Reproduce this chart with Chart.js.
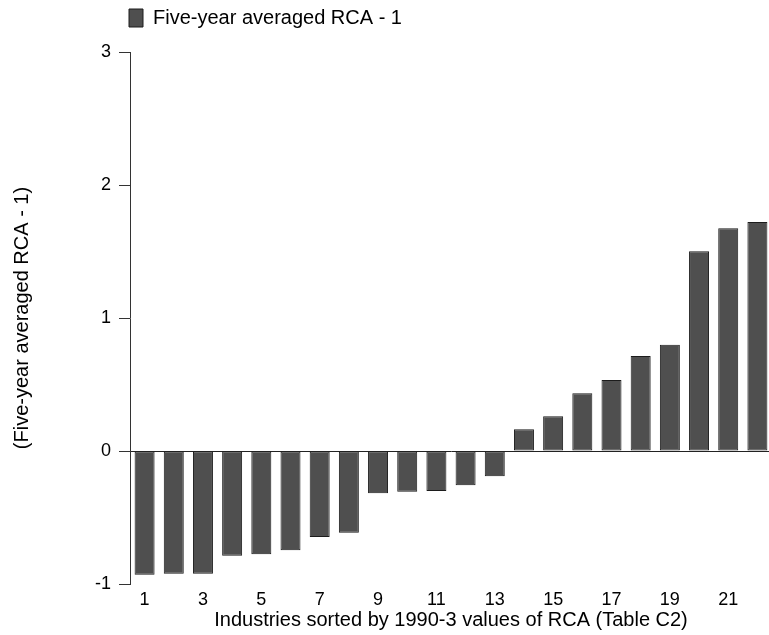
<!DOCTYPE html>
<html>
<head>
<meta charset="utf-8">
<script src="https://cdn.jsdelivr.net/npm/chart.js@4/dist/chart.umd.min.js"></script>
<style>
html,body{margin:0;padding:0;background:#fff;overflow:hidden;}
#wrap{position:relative;width:772px;height:635px;}
</style>
</head>
<body>
<div id="wrap"><canvas id="c"></canvas></div>
<script>
const categories = [1,2,3,4,5,6,7,8,9,10,11,12,13,14,15,16,17,18,19,20,21,22];
const rcaValues = [-0.93,-0.922,-0.922,-0.787,-0.777,-0.747,-0.647,-0.614,-0.318,-0.306,-0.30,-0.258,-0.19,0.163,0.261,0.434,0.534,0.714,0.799,1.502,1.674,1.722];
const seriesName = 'Five-year averaged RCA - 1';
const yTicks = [-1,0,1,2,3];
const xTitle = 'Industries sorted by 1990-3 values of RCA (Table C2)';
const yTitle = '(Five-year averaged RCA - 1)';

const FONT = 'Liberation Sans, Arial, sans-serif';
const LEGEND_PAD = 8;

const legendFix = {
  id: 'legendFix',
  beforeLayout(chart) {
    const lg = chart.legend;
    if (lg && !lg._patched) {
      const f = lg.fit.bind(lg);
      lg.fit = function() { f(); this.height = 52; };
      lg._patched = true;
    }
  },
  afterLayout(chart) {
    const lg = chart.legend;
    if (lg) {
      const dx = chart.chartArea.left - 1 - LEGEND_PAD - lg.left;
      lg.left += dx; lg.right += dx;
    }
  }
};

new Chart(document.getElementById('c'), {
  type: 'bar',
  data: {
    labels: categories.map(String),
    datasets: [{
      label: seriesName,
      data: rcaValues,
      backgroundColor: '#4f4f4f',
      borderColor: '#1c1c1c',
      borderWidth: 1,
      borderSkipped: false,
      barPercentage: 0.685,
      categoryPercentage: 1.0
    }]
  },
  options: {
    responsive: true,
    maintainAspectRatio: false,
    animation: false,
    layout: { padding: { left: 0, right: 0, top: 0, bottom: 0 } },
    plugins: {
      legend: {
        display: true,
        position: 'top',
        align: 'start',
        labels: {
          boxWidth: 14,
          boxHeight: 18,
          padding: LEGEND_PAD,
          color: '#000',
          font: { family: FONT, size: 20 }
        }
      },
      tooltip: { enabled: false }
    },
    scales: {
      x: {
        offset: true,
        grid: { display: false, drawTicks: false },
        border: { display: false },
        ticks: {
          autoSkip: false,
          maxRotation: 0,
          minRotation: 0,
          padding: 5,
          color: '#000',
          font: { family: FONT, size: 18 },
          callback: function(v, i) { return (i % 2 === 0) ? categories[i] : ''; }
        },
        title: {
          display: true,
          text: xTitle,
          color: '#000',
          font: { family: FONT, size: 20 },
          padding: { top: 0, bottom: 3 }
        },
        afterFit(scale) { scale.height = 51; }
      },
      y: {
        min: -1,
        max: 3,
        afterBuildTicks(scale) { scale.ticks = yTicks.map(v => ({ value: v })); },
        grid: {
          drawOnChartArea: true,
          color: (ctx) => (ctx.tick && ctx.tick.value === 0) ? '#222' : 'rgba(0,0,0,0)',
          tickColor: '#333',
          tickLength: 11,
          lineWidth: 1
        },
        border: { display: true, color: '#333', width: 1 },
        ticks: {
          padding: 8,
          color: '#000',
          font: { family: FONT, size: 18 }
        },
        title: {
          display: true,
          text: yTitle,
          color: '#000',
          font: { family: FONT, size: 20 },
          padding: { top: 10, bottom: 0 }
        },
        afterFit(scale) { scale.width = 130; }
      }
    }
  },
  plugins: [legendFix]
});
</script>
</body>
</html>
